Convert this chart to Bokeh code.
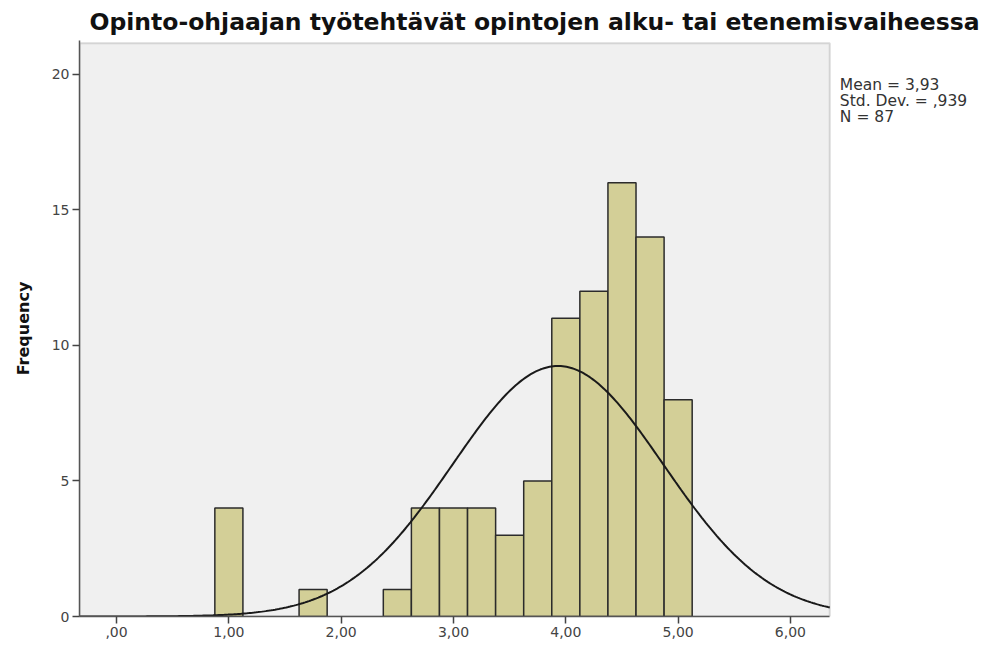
import numpy as np
from bokeh.plotting import figure
from bokeh.models import FixedTicker, BoxAnnotation
from bokeh.core.properties import value
from bokeh.embed import file_html
from bokeh.resources import INLINE

# ---- data ----
title_text = "Opinto-ohjaajan työtehtävät opintojen alku- tai etenemisvaiheessa"
bin_centers = [1.00, 1.75, 2.50, 2.75, 3.00, 3.25, 3.50, 3.75, 4.00, 4.25, 4.50, 4.75, 5.00]
frequencies = [4, 1, 1, 4, 4, 4, 3, 5, 11, 12, 16, 14, 8]
bin_width = 0.25
x_ticks = [0, 1, 2, 3, 4, 5, 6]
x_tick_labels = [",00", "1,00", "2,00", "3,00", "4,00", "5,00", "6,00"]
y_ticks = [0, 5, 10, 15, 20]
mean_val = 3.93
std_val = 0.939
n_val = 87
stats_lines = ["Mean = 3,93", "Std. Dev. = ,939", "N = 87"]
stats_y = [19.62, 19.02, 18.42]

x_min, x_max = -0.33, 6.35
y_min, y_max = 0, 21.15
x_view_max = 7.79   # extra room to the right of the plot area for the statistics text
y_view_max = 21.25

p = figure(width=991, height=643, x_range=(x_min, x_view_max), y_range=(y_min, y_view_max),
           output_backend="svg", toolbar_location=None,
           min_border_left=79, min_border_right=0, min_border_top=35, min_border_bottom=27)

p.title.text = title_text
p.title.align = "left"
p.title.offset = 10
p.title.text_font = "DejaVu Sans"
p.title.text_font_style = "bold"
p.title.text_font_size = "23.5px"
p.title.text_color = "#111111"

p.background_fill_color = "white"
p.border_fill_color = "white"
p.outline_line_color = None
p.xgrid.visible = False
p.ygrid.visible = False

p.add_layout(BoxAnnotation(left=x_min, right=x_max, bottom=y_min, top=y_max,
                           fill_color="#F0F0F0", fill_alpha=1.0,
                           line_color="#8c8c8c", line_width=2, level="underlay"))

left = [c - bin_width / 2 for c in bin_centers]
right = [c + bin_width / 2 for c in bin_centers]
p.quad(left=left, right=right, bottom=0, top=frequencies,
       fill_color="#D3CF97", line_color="#2b2b2b", line_width=1.5)

xs = np.linspace(x_min, x_max, 400)
ys = n_val * bin_width / (std_val * np.sqrt(2 * np.pi)) * np.exp(-0.5 * ((xs - mean_val) / std_val) ** 2)
p.line(xs, ys, line_color="#1a1a1a", line_width=2)

p.text(x=[6.44] * len(stats_lines), y=stats_y, text=stats_lines,
       text_font=value("DejaVu Sans"), text_font_size="15.5px", text_color="#333333",
       text_baseline="middle", text_align="left")

p.xaxis.ticker = FixedTicker(ticks=x_ticks)
p.xaxis.bounds = (x_min, x_max)
p.xaxis.major_label_overrides = {t: l for t, l in zip(x_ticks, x_tick_labels)}
p.yaxis.ticker = FixedTicker(ticks=y_ticks)
p.xaxis.minor_tick_line_color = None
p.yaxis.minor_tick_line_color = None
for ax in (p.xaxis, p.yaxis):
    ax.axis_line_color = "#555555"
    ax.axis_line_width = 1.5
    ax.major_tick_line_color = "#444444"
    ax.major_tick_line_width = 1.5
    ax.major_tick_out = 7
    ax.major_tick_in = 0
    ax.major_label_text_font = "DejaVu Sans"
    ax.major_label_text_font_size = "14px"
    ax.major_label_text_color = "#444444"
    ax.major_label_standoff = 3

p.yaxis.axis_label = "Frequency"
p.yaxis.axis_label_text_font = "DejaVu Sans"
p.yaxis.axis_label_text_font_style = "bold"
p.yaxis.axis_label_text_font_size = "16px"
p.yaxis.axis_label_text_color = "#111111"
p.yaxis.axis_label_standoff = 16

open("out.html", "w").write(file_html(p, INLINE))
